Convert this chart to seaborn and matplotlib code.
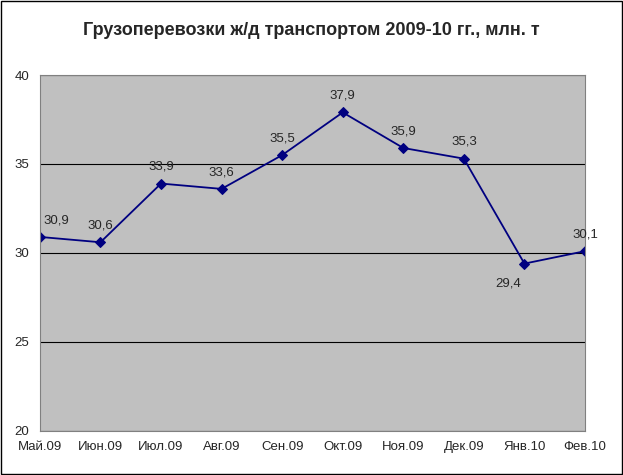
import matplotlib
matplotlib.use("Agg")
import matplotlib.pyplot as plt
import seaborn as sns
import pandas as pd
from matplotlib.patches import Rectangle

months = ["Май.09", "Июн.09", "Июл.09", "Авг.09", "Сен.09", "Окт.09", "Ноя.09", "Дек.09", "Янв.10", "Фев.10"]
values = [30.9, 30.6, 33.9, 33.6, 35.5, 37.9, 35.9, 35.3, 29.4, 30.1]
title = "Грузоперевозки ж/д транспортом 2009-10 гг., млн. т"

sns.set_style("white")
plt.rcParams['font.family'] = ['Liberation Sans', 'DejaVu Sans']

df = pd.DataFrame({"x": range(len(months)), "v": values})
fig = plt.figure(figsize=(6.23, 4.75), dpi=100)
fig.patches.append(Rectangle((0.002, 0.002), 0.996, 0.996, transform=fig.transFigure,
                             fill=False, edgecolor="black", linewidth=1))
ax = fig.add_axes([0.064, 0.093, 0.875, 0.749])
ax.set_facecolor("#C0C0C0")
sns.lineplot(data=df, x="x", y="v", ax=ax, color="#000080", marker="D", markersize=5,
             markeredgecolor="#000080", linewidth=1.3)
ax.set_xlim(0, len(months) - 1)
ax.set_ylim(20, 40)
ax.set_yticks([20, 25, 30, 35, 40])
ax.set_xticks(range(len(months)))
ax.set_xticklabels(months, fontsize=9.5)
ax.tick_params(axis="y", labelsize=9.5)
ax.set_xlabel(""); ax.set_ylabel("")
ax.grid(axis="y", color="black", linewidth=0.8)
ax.set_axisbelow(True)
for s in ax.spines.values():
    s.set_color("#808080")
ax.tick_params(axis="both", length=4, color="black")

for i, v in enumerate(values):
    lab = f"{v:.1f}".replace(".", ",")
    if i == 8:
        ax.annotate(lab, (i, v), xytext=(-12, -14), textcoords="offset points", ha="center", va="center", fontsize=9.5)
    elif i == 0:
        ax.annotate(lab, (i, v), xytext=(12, 12), textcoords="offset points", ha="center", va="center", fontsize=9.5)
    else:
        ax.annotate(lab, (i, v), xytext=(0, 12), textcoords="offset points", ha="center", va="center", fontsize=9.5)

fig.text(0.5, 0.935, title, ha="center", va="center", fontsize=13, fontweight="bold")
fig.savefig("out.png", dpi=100)
